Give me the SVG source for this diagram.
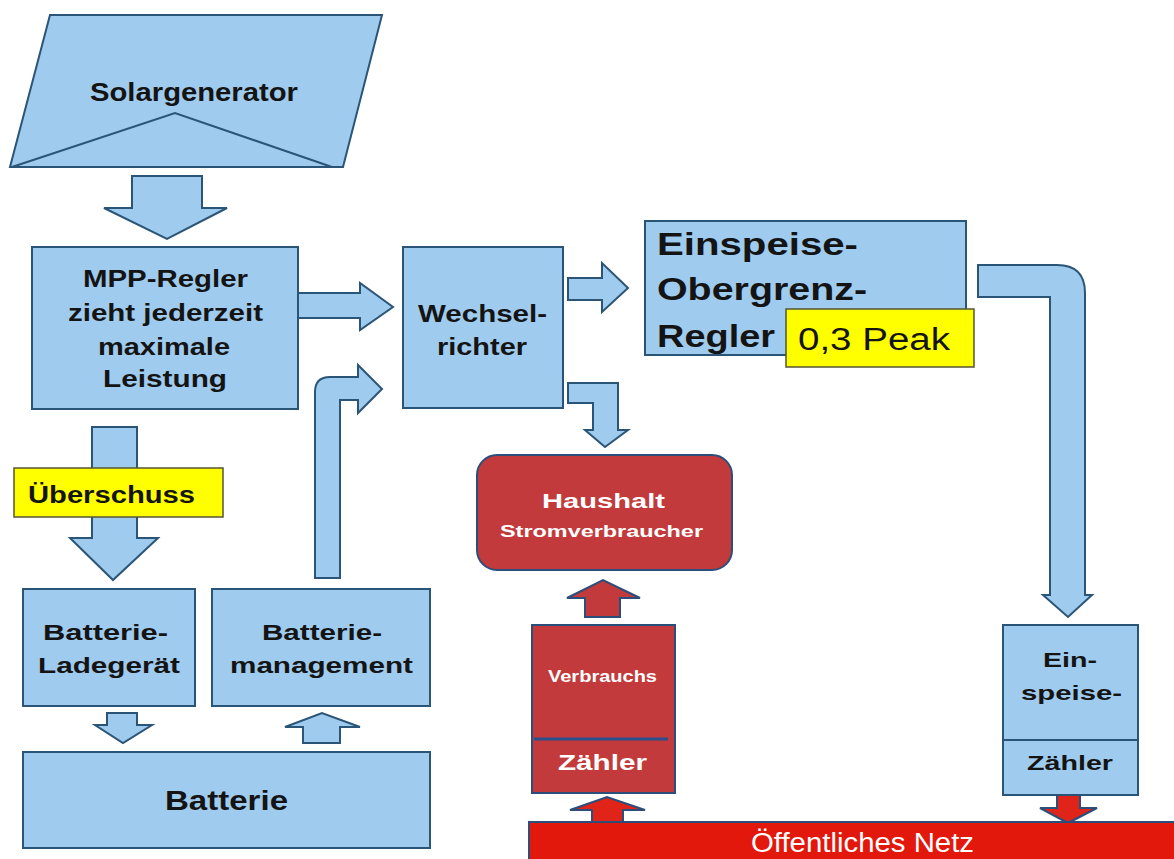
<svg xmlns="http://www.w3.org/2000/svg" width="1174" height="859" viewBox="0 0 1174 859">
<style>
.bl{fill:#9fcbee;stroke:#2b5576;stroke-width:2}
.ar{fill:#9fcbee;stroke:#2b5576;stroke-width:2;stroke-linejoin:miter}
.rd{fill:#c23a3b;stroke:#2b4f7a;stroke-width:2}
.ra{fill:#e0241a;stroke:#2b4f7a;stroke-width:2}
.yl{fill:#ffff00;stroke:#555533;stroke-width:1.5}
.t{font-family:"Liberation Sans",Arial,sans-serif;font-weight:bold;fill:#141414}
.w{font-family:"Liberation Sans",Arial,sans-serif;font-weight:bold;fill:#ffffff}
.n{font-family:"Liberation Sans",Arial,sans-serif;font-weight:normal}
</style>
<rect width="1174" height="859" fill="#ffffff"/>
<g id="connectors">
<path class="ar" d="M132,176 L202,176 L202,208 L227,208 L167,239 L104,208 L132,208 Z"/>
<path class="ar" d="M297,293 L360,293 L360,283 L393,307 L360,330 L360,318 L297,318 Z"/>
<path class="ar" d="M315,578 L315,392 Q315,377 330,377 L358,377 L358,365 L382,389 L358,413 L358,400 L340,400 L340,578 Z"/>
<path class="ar" d="M92,427 L137,427 L137,538 L158,538 L113,580 L70,538 L92,538 Z"/>
<path class="ar" d="M107,713 L137,713 L137,725 L152,725 L123,743 L95,725 L107,725 Z"/>
<path class="ar" d="M303,743 L303,727 L285,727 L322,713 L360,727 L340,727 L340,743 Z"/>
<path class="ar" d="M568,278 L602,278 L602,263 L628,288 L602,312 L602,300 L568,300 Z"/>
<path class="ar" d="M568,383 L618,383 L618,430 L628,430 L605,447 L585,430 L593,430 L593,403 L568,403 Z"/>
<path class="ar" d="M978,265 L1057,265 Q1085,265 1085,293 L1085,595 L1092,595 L1068,617 L1043,595 L1050,595 L1050,297 L978,297 Z"/>
<path class="rd" d="M585,617 L585,598 L567,598 L603,580 L640,598 L620,598 L620,617 Z"/>
<path class="ra" d="M592,822 L592,810 L570,810 L607,797 L645,810 L623,810 L623,822 Z"/>
<path class="ra" d="M1057,795 L1080,795 L1080,808 L1097,808 L1068,823 L1040,808 L1057,808 Z"/>
</g>
<g id="solargenerator">
<polygon class="bl" points="50,15 382,15 343,167 10,167"/>
<polyline points="12,167 175,113 332,167" fill="none" stroke="#2b5576" stroke-width="2"/>
<text class="t" x="90" y="101" font-size="25" textLength="208" lengthAdjust="spacingAndGlyphs">Solargenerator</text>
</g>
<g id="mpp">
<rect class="bl" x="32" y="247" width="266" height="162"/>
<text class="t" font-size="23" x="83" y="287" textLength="165" lengthAdjust="spacingAndGlyphs">MPP-Regler</text>
<text class="t" font-size="23" x="68" y="321" textLength="195" lengthAdjust="spacingAndGlyphs">zieht jederzeit</text>
<text class="t" font-size="23" x="98" y="355" textLength="132" lengthAdjust="spacingAndGlyphs">maximale</text>
<text class="t" font-size="23" x="103" y="387" textLength="124" lengthAdjust="spacingAndGlyphs">Leistung</text>
</g>
<g id="ueberschuss">
<rect class="yl" x="14" y="468" width="209" height="49"/>
<text class="t" font-size="23" x="28" y="503" textLength="167" lengthAdjust="spacingAndGlyphs">Überschuss</text>
</g>
<g id="ladegeraet">
<rect class="bl" x="23" y="589" width="172" height="117"/>
<text class="t" font-size="22" x="43" y="640" textLength="125" lengthAdjust="spacingAndGlyphs">Batterie-</text>
<text class="t" font-size="22" x="38" y="673" textLength="142" lengthAdjust="spacingAndGlyphs">Ladegerät</text>
</g>
<g id="management">
<rect class="bl" x="212" y="589" width="218" height="117"/>
<text class="t" font-size="22" x="262" y="640" textLength="120" lengthAdjust="spacingAndGlyphs">Batterie-</text>
<text class="t" font-size="22" x="230" y="673" textLength="183" lengthAdjust="spacingAndGlyphs">management</text>
</g>
<g id="batterie">
<rect class="bl" x="23" y="752" width="407" height="96"/>
<text class="t" font-size="28" x="165" y="810" textLength="123" lengthAdjust="spacingAndGlyphs">Batterie</text>
</g>
<g id="wechselrichter">
<rect class="bl" x="403" y="247" width="160" height="161"/>
<text class="t" font-size="23" x="418" y="322" textLength="129" lengthAdjust="spacingAndGlyphs">Wechsel-</text>
<text class="t" font-size="23" x="437" y="355" textLength="90" lengthAdjust="spacingAndGlyphs">richter</text>
</g>
<g id="einspeiseregler">
<rect class="bl" x="645" y="221" width="321" height="134"/>
<text class="t" font-size="32" x="657" y="255" textLength="201" lengthAdjust="spacingAndGlyphs">Einspeise-</text>
<text class="t" font-size="32" x="657" y="300" textLength="210" lengthAdjust="spacingAndGlyphs">Obergrenz-</text>
<text class="t" font-size="32" x="657" y="347" textLength="118" lengthAdjust="spacingAndGlyphs">Regler</text>
</g>
<g id="peak">
<rect class="yl" x="786" y="309" width="188" height="58"/>
<text class="t n" font-size="31" x="798" y="350" textLength="152" lengthAdjust="spacingAndGlyphs">0,3 Peak</text>
</g>
<g id="haushalt">
<rect class="rd" x="477" y="455" width="255" height="115" rx="20"/>
<text class="w" font-size="21" x="542" y="508" textLength="123" lengthAdjust="spacingAndGlyphs">Haushalt</text>
<text class="w" font-size="17" x="500" y="537" textLength="203" lengthAdjust="spacingAndGlyphs">Stromverbraucher</text>
</g>
<g id="verbrauchszaehler">
<rect class="rd" x="532" y="625" width="143" height="168"/>
<line x1="534" y1="739" x2="668" y2="739" stroke="#2b4f8a" stroke-width="3"/>
<text class="w" font-size="16" x="548" y="682" textLength="109" lengthAdjust="spacingAndGlyphs">Verbrauchs</text>
<text class="w" font-size="22" x="558" y="770" textLength="89" lengthAdjust="spacingAndGlyphs">Zähler</text>
</g>
<g id="einspeisezaehler">
<rect class="bl" x="1003" y="625" width="135" height="170"/>
<line x1="1003" y1="740" x2="1138" y2="740" stroke="#2b5576" stroke-width="2"/>
<text class="t" font-size="21" x="1043" y="667" textLength="54" lengthAdjust="spacingAndGlyphs">Ein-</text>
<text class="t" font-size="21" x="1021" y="700" textLength="101" lengthAdjust="spacingAndGlyphs">speise-</text>
<text class="t" font-size="21" x="1027" y="770" textLength="86" lengthAdjust="spacingAndGlyphs">Zähler</text>
</g>
<g id="netz">
<rect x="529" y="822" width="650" height="45" fill="#e3180d" stroke="#2b4f7a" stroke-width="2"/>
<text class="n" font-family="Liberation Sans, Arial, sans-serif" fill="#ffffff" font-size="27" x="751" y="852" textLength="223" lengthAdjust="spacingAndGlyphs">Öffentliches Netz</text>
</g>
</svg>
